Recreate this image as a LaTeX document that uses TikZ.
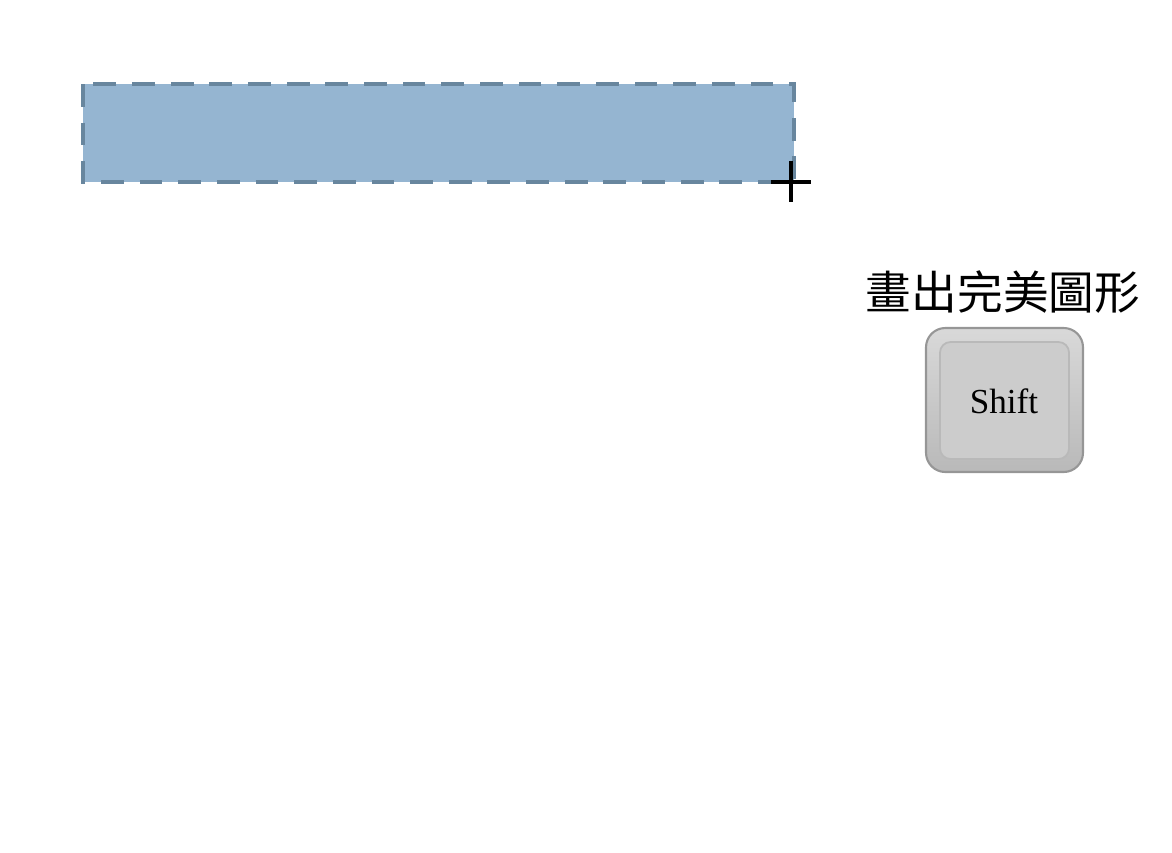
\documentclass[tikz,border=0pt]{standalone}
\usepackage{fontspec}
\newfontfamily\cjk{Noto Sans CJK TC}
\setmainfont{Liberation Serif}
\definecolor{selblue}{RGB}{149,181,209}
\definecolor{seledge}{RGB}{104,134,158}
\definecolor{keygray}{RGB}{204,204,204}
\definecolor{keyedge}{RGB}{150,150,150}
\begin{document}
\begin{tikzpicture}[x=0.02cm,y=-0.02cm,
  selbox/.style={fill=selblue, draw=seledge, line width=2.4pt, dash pattern=on 13pt off 9pt},
  keyouter/.style={draw=keyedge, line width=1.2pt, rounded corners=11pt, top color=gray!30, bottom color=gray!55},
  keyinner/.style={draw=gray!55, line width=1pt, rounded corners=6pt, fill=keygray}]
  % canvas
  \useasboundingbox (0,0) rectangle (1172,852);
  % selection rectangle
  \draw[selbox] (83,84) rectangle (794,182);
  % cross cursor
  \coordinate (cur) at (791,182);
  \draw[line width=1.8pt] (cur) +(-20,0) -- +(20,0);
  \draw[line width=1.8pt] (cur) +(0,-21) -- +(0,20);
  % caption
  \node[font=\cjk\fontsize{26}{30}\selectfont] (cap) at (1003,292) {畫出完美圖形};
  % shift key
  \draw[keyouter] (926,328) rectangle (1083,472);
  \draw[keyinner] (940,342) rectangle (1069,459);
  \node[font=\fontsize{20}{24}\selectfont] (key) at (1004,401) {Shift};
\end{tikzpicture}
\end{document}
